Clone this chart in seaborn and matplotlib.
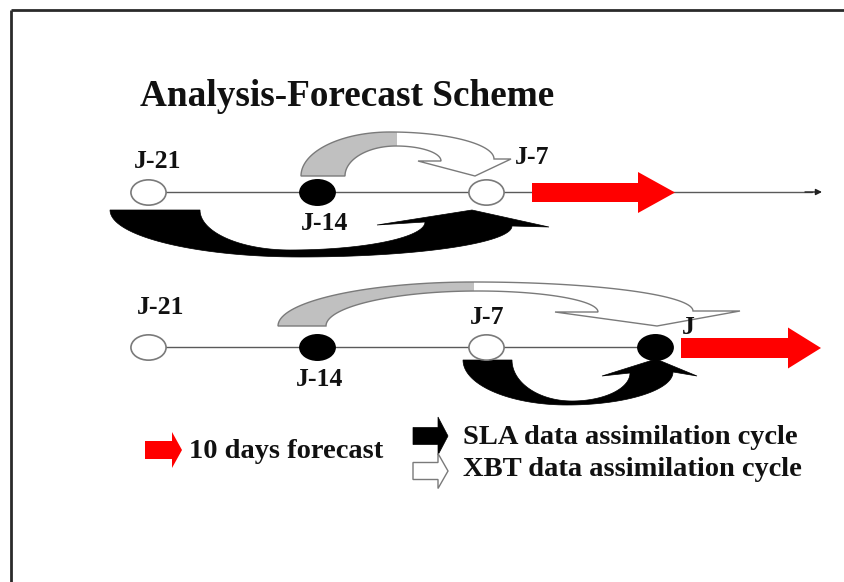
import numpy as np
import pandas as pd
import matplotlib
matplotlib.use("Agg")
import matplotlib.pyplot as plt
from matplotlib.path import Path
from matplotlib.patches import Polygon, Rectangle
from matplotlib.transforms import Affine2D
import seaborn as sns


# ─── Data ─────────────────────────────────────────────────────────────────────
TITLE         = "Analysis-Forecast Scheme"
DAYS          = [-21, -14, -7, 0]
DAY_LABELS    = ["J-21", "J-14", "J-7", "J"]
ROW1_DAYS     = [-21, -14, -7]
ROW1_FILLED   = [False, True, False]
ROW2_DAYS     = [-21, -14, -7, 0]
ROW2_FILLED   = [False, True, False, True]
LEGEND_LABELS = ["10 days forecast",
                 "SLA data assimilation cycle",
                 "XBT data assimilation cycle"]


# ─── Layout (pixel space, y down) ─────────────────────────────────────────────
W, H       = 844, 582
X_J21      = 148
PX_PER_DAY = 24.14
ROW_Y      = [192, 347]
RED        = "#ff0000"
GREY_FILL  = "#c0c0c0"
EDGE       = "#7a7a7a"
FONT       = "Liberation Serif"


def day_x(d):
    return X_J21 + (d - DAYS[0]) * PX_PER_DAY


def bezier(p0, p1, p2, p3, n=40):
    t = np.linspace(0, 1, n)[:, None]
    p0, p1, p2, p3 = map(np.asarray, (p0, p1, p2, p3))
    return ((1 - t) ** 3 * p0 + 3 * (1 - t) ** 2 * t * p1
            + 3 * (1 - t) * t ** 2 * p2 + t ** 3 * p3)


def quarter(p0, p1, vertical_first):
    k = 0.552
    (x0, y0), (x1, y1) = p0, p1
    if vertical_first:
        c1, c2 = (x0, y0 + k * (y1 - y0)), (x1 - k * (x1 - x0), y1)
    else:
        c1, c2 = (x0 + k * (x1 - x0), y0), (x1, y1 - k * (y1 - y0))
    return bezier(p0, c1, c2, p1)


def curved_arrow(tail_out, tail_in, peak_out, peak_in,
                 notch_out, wing_out, tip, wing_in, notch_in):
    outer = np.vstack([quarter(tail_out, peak_out, True),
                       quarter(peak_out, notch_out, False)])
    inner = np.vstack([quarter(tail_in, peak_in, True),
                       quarter(peak_in, notch_in, False)])
    head = np.array([wing_out, tip, wing_in])
    return np.vstack([outer, head, inner[::-1]])


def block_arrow(x0, x_body, x_tip, yc, body_h, head_h):
    return np.array([
        (x0, yc - body_h / 2), (x_body, yc - body_h / 2),
        (x_body, yc - head_h / 2), (x_tip, yc),
        (x_body, yc + head_h / 2), (x_body, yc + body_h / 2),
        (x0, yc + body_h / 2),
    ])


def two_tone_arrow(ax, pts, split_x):
    shape = Polygon(pts, closed=True, facecolor="white", edgecolor="none", zorder=3)
    ax.add_patch(shape)
    grey = Rectangle((0, 0), split_x, H, facecolor=GREY_FILL, edgecolor="none", zorder=3)
    grey.set_clip_path(shape)
    ax.add_patch(grey)
    ax.add_patch(Polygon(pts, closed=True, fill=False, edgecolor=EDGE, lw=1.0, zorder=4))


# ─── Figure ───────────────────────────────────────────────────────────────────
sns.set_theme(style="white")
plt.rcParams["font.family"] = [FONT, "DejaVu Serif"]

fig = plt.figure(figsize=(W / 100, H / 100), dpi=100)
ax = fig.add_axes([0, 0, 1, 1])
ax.set_xlim(0, W)
ax.set_ylim(H, 0)
ax.axis("off")

# outer frame (top and left edges only visible)
ax.plot([11, W], [10, 10], color="#2a2a2a", lw=2.0, solid_capstyle="butt")
ax.plot([11, 11], [10, H], color="#2a2a2a", lw=2.0, solid_capstyle="butt")

ax.text(140, 96, TITLE, fontsize=26.8, fontweight="bold", ha="left", va="center",
        color="#111111")

# timelines
y1, y2 = ROW_Y
sns.lineplot(x=[day_x(ROW1_DAYS[0]), 812], y=[y1, y1], ax=ax,
             color="#5a5a5a", lw=1.0, zorder=1)
ax.annotate("", xy=(822, y1), xytext=(805, y1),
            arrowprops=dict(arrowstyle="-|>", color="#222222", lw=1.0,
                            mutation_scale=9, shrinkA=0, shrinkB=0))
sns.lineplot(x=[day_x(ROW2_DAYS[0]), day_x(ROW2_DAYS[-1])], y=[y2, y2], ax=ax,
             color="#5a5a5a", lw=1.0, zorder=1)

# cycle arrows, top scheme
two_tone_arrow(ax, curved_arrow((301, 176), (345, 176), (390, 132), (396, 146),
                                (494, 159), (511, 159), (475, 176), (418, 161), (441, 161)),
               split_x=397)
ax.add_patch(Polygon(curved_arrow((110, 210), (200, 210), (300, 257), (290, 250),
                                  (512, 226), (549, 227), (472, 210), (377, 225), (425, 222)),
                     closed=True, facecolor="black", edgecolor="black", lw=0.5, zorder=3))

# cycle arrows, bottom scheme
two_tone_arrow(ax, curved_arrow((278, 326), (326, 326), (474, 282), (478, 291),
                                (693, 311), (740, 311), (657, 326), (555, 312), (598, 312)),
               split_x=474)
ax.add_patch(Polygon(curved_arrow((463, 360), (512, 360), (567, 405), (572, 401),
                                  (673, 372), (697, 376), (656, 359), (602, 376), (630, 373)),
                     closed=True, facecolor="black", edgecolor="black", lw=0.5, zorder=3))

# nodes
oval = Path.unit_circle().transformed(Affine2D().scale(1.0, 0.72))
nodes = pd.DataFrame({
    "day": ROW1_DAYS + ROW2_DAYS,
    "filled": ROW1_FILLED + ROW2_FILLED,
    "row": [0] * len(ROW1_DAYS) + [1] * len(ROW2_DAYS),
})
nodes["x"] = nodes["day"].map(day_x)
nodes["y"] = nodes["row"].map(lambda r: ROW_Y[r])
for filled, sub in nodes.groupby("filled"):
    sns.scatterplot(data=sub, x="x", y="y", ax=ax, marker=oval, s=640,
                    color="black" if filled else "white",
                    edgecolor="black" if filled else EDGE,
                    linewidth=1.2, legend=False, zorder=5)

# node labels
lab = dict(zip(DAYS, DAY_LABELS))
lbl_kw = dict(fontsize=18.5, fontweight="bold", color="#111111", zorder=6)
ax.text(158, 161, lab[-21], ha="center", va="center", **lbl_kw)
ax.text(325, 223, lab[-14], ha="center", va="center", **lbl_kw)
ax.text(532, 158, lab[-7], ha="center", va="center", **lbl_kw)
ax.text(161, 307, lab[-21], ha="center", va="center", **lbl_kw)
ax.text(320, 380, lab[-14], ha="center", va="center", **lbl_kw)
ax.text(487, 318, lab[-7], ha="center", va="center", **lbl_kw)
ax.text(688, 328, lab[0], ha="center", va="center", **lbl_kw)

# forecast arrows
ax.add_patch(Polygon(block_arrow(532, 638, 675, y1 + 0.5, 19, 41),
                     closed=True, facecolor=RED, edgecolor="none", zorder=4))
ax.add_patch(Polygon(block_arrow(681, 788, 821, y2 + 1, 20, 41),
                     closed=True, facecolor=RED, edgecolor="none", zorder=6))

# legend
ax.add_patch(Polygon(block_arrow(145, 172, 182, 450, 18, 36),
                     closed=True, facecolor=RED, edgecolor="none"))
ax.add_patch(Polygon(block_arrow(413, 438, 448, 436, 17, 38),
                     closed=True, facecolor="black", edgecolor="black", lw=0.5))
ax.add_patch(Polygon(block_arrow(413, 438, 448, 471, 17, 35),
                     closed=True, facecolor="white", edgecolor=EDGE, lw=1.0))
leg_kw = dict(fontsize=20.5, fontweight="bold", color="#111111", ha="left", va="center")
ax.text(189, 452, LEGEND_LABELS[0], **leg_kw)
ax.text(463, 438, LEGEND_LABELS[1], **leg_kw)
ax.text(463, 470, LEGEND_LABELS[2], **leg_kw)

fig.savefig("out.png", dpi=100)
